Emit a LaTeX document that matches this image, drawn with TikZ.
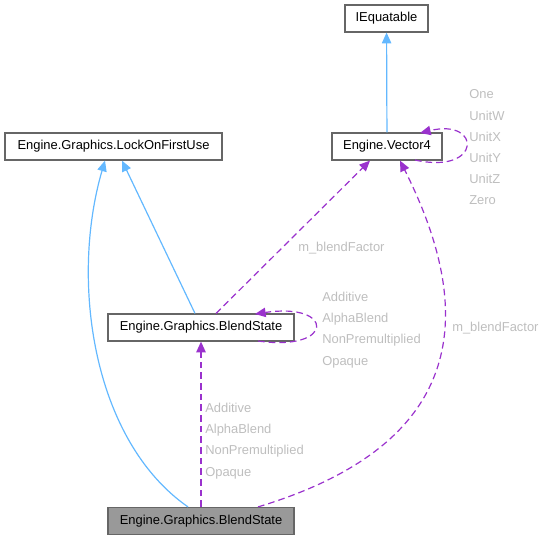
\documentclass[tikz,border=0pt]{standalone}
\usepackage{fontspec}
\setmainfont{Liberation Sans}
\usetikzlibrary{arrows.meta}
\definecolor{inh}{HTML}{63B8FF}
\definecolor{use}{HTML}{9A32CD}
\definecolor{lbl}{HTML}{BEBEBE}
\definecolor{brd}{HTML}{666666}
\definecolor{cur}{HTML}{999999}
\tikzset{
  cls/.style={draw=brd, line width=0.9pt, fill=white, inner sep=0pt, minimum height=20.25pt, font=\fontsize{9.7}{12}\selectfont},
  curcls/.style={cls, fill=cur},
  inharr/.style={draw=inh, line width=0.9pt, -{Triangle[length=8pt,width=7pt]}},
  usearr/.style={draw=use, line width=0.9pt, dash pattern=on 5pt off 3pt, -{Triangle[length=8pt,width=7pt]}},
  lab/.style={text=lbl, inner sep=0pt, align=left, font=\fontsize{9.7}{15.9}\selectfont},
}
\begin{document}
\begin{tikzpicture}[x=0.75pt,y=-0.75pt]
\useasboundingbox (0,0) rectangle (548,540);
\node[cls, minimum width=62.25pt] (ieq) at (386.5,18.5) {IEquatable};
\node[cls, minimum width=82.5pt] (vec) at (387,146.5) {Engine.Vector4};
\node[cls, minimum width=162.75pt] (lock) at (113.5,146.5) {Engine.Graphics.LockOnFirstUse};
\node[cls, minimum width=139.5pt] (bs) at (201,327.5) {Engine.Graphics.BlendState};
\node[curcls, minimum width=139.5pt] (cur) at (201,521) {Engine.Graphics.BlendState};
\coordinate (vecloopA) at (415,160);
\coordinate (vecloopB) at (420,133);
\coordinate (bsloopA) at (258,341);
\coordinate (bsloopB) at (255,314);
% inheritance
\draw[inharr] (vec) -- (ieq);
\draw[inharr] (bs.north -| 195,0) -- (lock.south -| 122,0);
\draw[inharr] (cur.north -| 188,0) .. controls (92,440) and (70,280) .. (lock.south -| 105,0);
% usage
\draw[usearr, line width=1.1pt] (cur.north -| 201,0) -- (bs.south -| 201,0);
\draw[usearr] (bs.north -| 216,0) -- (vec.south -| 370,0);
\draw[usearr] (vecloopA) .. controls (482,175) and (482,118) .. (vecloopB);
\draw[usearr] (bsloopA) .. controls (335,352) and (335,302) .. (bsloopB);
\draw[usearr] (cur.north -| 258,0) .. controls (480,440) and (470,300) .. (vec.south -| 400,0);
% labels
\node[lab, anchor=west] (l1) at (469,147.5) {One\\UnitW\\UnitX\\UnitY\\UnitZ\\Zero};
\node[lab, anchor=west] (l2) at (322,330) {Additive\\AlphaBlend\\NonPremultiplied\\Opaque};
\node[lab, anchor=west] (l3) at (205,441) {Additive\\AlphaBlend\\NonPremultiplied\\Opaque};
\node[lab, anchor=west] (l4) at (298,248) {m\_blendFactor};
\node[lab, anchor=west] (l5) at (452,328) {m\_blendFactor};
\end{tikzpicture}
\end{document}
